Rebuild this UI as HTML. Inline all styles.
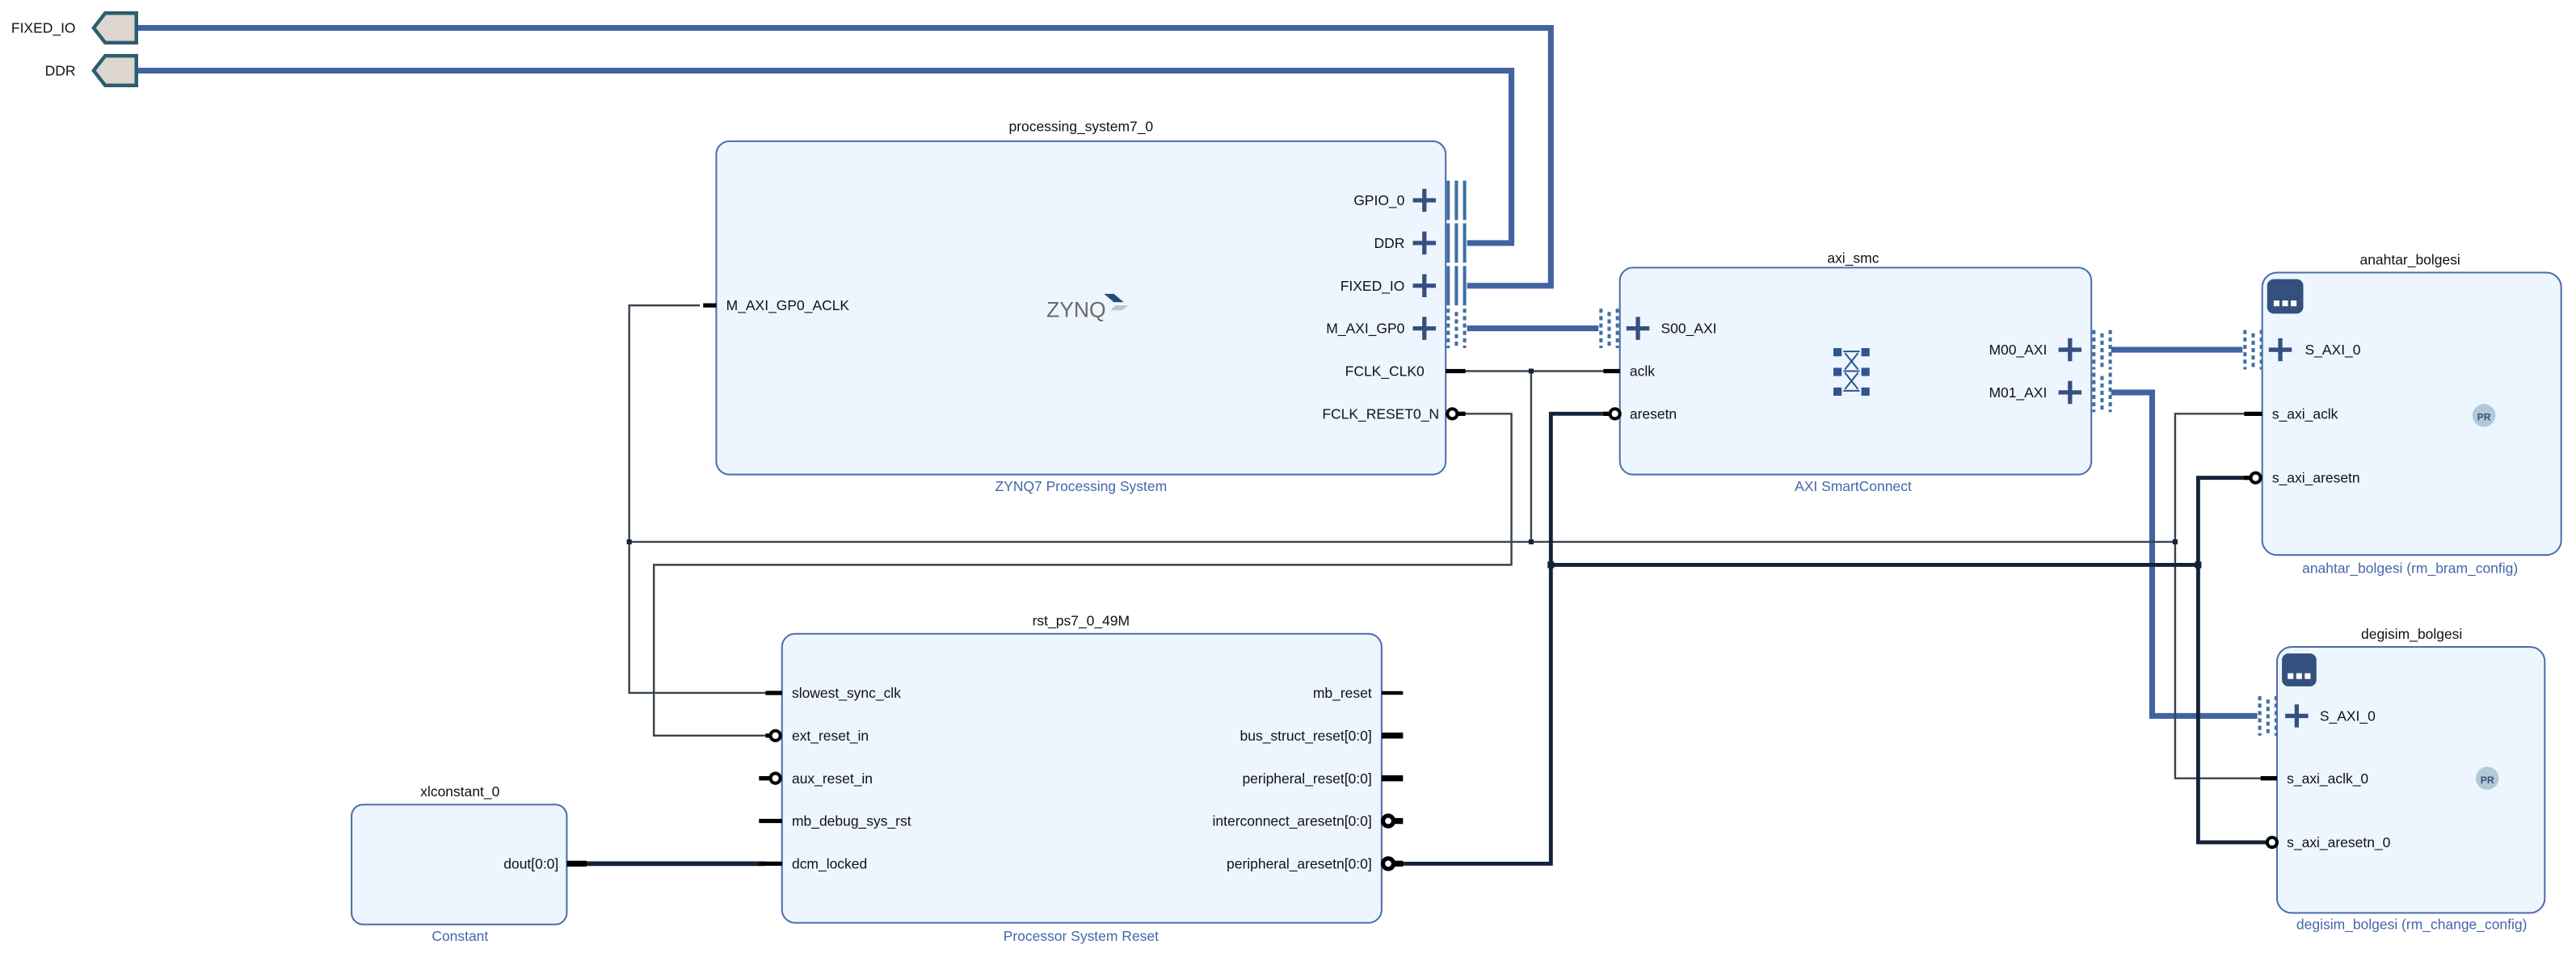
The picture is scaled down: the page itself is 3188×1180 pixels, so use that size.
<!DOCTYPE html>
<html><head><meta charset="utf-8"><style>
html,body{margin:0;padding:0;background:#fff;}
svg{display:block;}
text{font-family:"Liberation Sans",sans-serif;font-size:8.6px;fill:#111;}
.t{text-anchor:middle;}
.s{fill:#4466a8;text-anchor:middle;}
.r{text-anchor:end;}
.box{fill:#edf5fe;stroke:#4a6ea9;stroke-width:1;}
.bus{stroke:#4163a0;stroke-width:3.5;fill:none;}
.clk{stroke:#3a4450;stroke-width:1.2;fill:none;}
.rst{stroke:#14233a;stroke-width:2.4;fill:none;}
.pl{stroke:#34507f;stroke-width:2.6;}
.pin{stroke:#000;stroke-width:2.6;}
.inv{fill:#fff;stroke:#000;stroke-width:2;}
</style></head><body>
<svg width="3188" height="1180" viewBox="0 0 1568 580.4" preserveAspectRatio="none" xmlns="http://www.w3.org/2000/svg">
<text class="r" x="46" y="20">FIXED_IO</text>
<polygon points="57,17 64,8 83,8 83,26 64,26" fill="#ddd5d0" stroke="#2b5d6e" stroke-width="2.2"/>
<text class="r" x="46" y="46">DDR</text>
<polygon points="57,43 64,34 83,34 83,52 64,52" fill="#ddd5d0" stroke="#2b5d6e" stroke-width="2.2"/>
<polyline class="bus" points="84,17 944,17 944,174 893,174"/>
<polyline class="bus" points="84,43 920,43 920,148 893,148"/>

<line class="bus" x1="893" y1="200" x2="973" y2="200"/>
<line class="bus" x1="1285" y1="213" x2="1365" y2="213"/>
<polyline class="bus" points="1285,239 1310,239 1310,436 1374,436"/>
<line class="clk" x1="892" y1="226" x2="976" y2="226"/>
<line class="clk" x1="932" y1="226" x2="932" y2="330"/>
<line class="clk" x1="383" y1="330" x2="1324" y2="330"/>
<polyline class="clk" points="426,186 383,186 383,422 466,422"/>
<polyline class="clk" points="1366,252 1324,252 1324,474 1376,474"/>
<rect x="930.5" y="224.5" width="3" height="3" fill="#14233a"/>
<rect x="381.5" y="328.5" width="3" height="3" fill="#14233a"/>
<rect x="930.5" y="328.5" width="3" height="3" fill="#14233a"/>
<rect x="1322.5" y="328.5" width="3" height="3" fill="#14233a"/>
<polyline class="clk" points="890,252 920,252 920,344 398,344 398,448 468,448"/>
<polyline class="rst" points="852,526 944,526 944,252 978,252"/>
<line class="rst" x1="944" y1="344" x2="1338" y2="344"/>
<polyline class="rst" points="1372,291 1338,291 1338,513 1380,513"/>
<rect x="942" y="342" width="4" height="4" fill="#14233a"/>
<rect x="1336" y="342" width="4" height="4" fill="#14233a"/>
<line class="rst" x1="355" y1="526" x2="466" y2="526" style="stroke-width:2.8"/>

<text class="t" x="658" y="80">processing_system7_0</text>
<rect class="box" x="436" y="86" width="444" height="203" rx="8"/>
<text class="s" x="658" y="299">ZYNQ7 Processing System</text>
<text x="442" y="189">M_AXI_GP0_ACLK</text>
<line class="pin" x1="428" y1="186" x2="436" y2="186"/>
<text x="637" y="193" style="font-size:13px;fill:#6a6a6a">ZYNQ</text>
<polygon points="672,179 678,179 684,184 678,184" fill="#1f4e79"/>
<polygon points="679,186 687,186 683,189 676,189" fill="#b8c7d6"/>
<text class="r" x="855" y="125">GPIO_0</text>
<text class="r" x="855" y="151">DDR</text>
<text class="r" x="855" y="177">FIXED_IO</text>
<text class="r" x="855" y="203">M_AXI_GP0</text>
<text class="r" x="867" y="229">FCLK_CLK0</text>
<text class="r" x="876" y="255">FCLK_RESET0_N</text>
<g class="pl">
<line x1="860" y1="122" x2="874" y2="122"/><line x1="867" y1="115" x2="867" y2="129"/>
<line x1="860" y1="148" x2="874" y2="148"/><line x1="867" y1="141" x2="867" y2="155"/>
<line x1="860" y1="174" x2="874" y2="174"/><line x1="867" y1="167" x2="867" y2="181"/>
<line x1="860" y1="200" x2="874" y2="200"/><line x1="867" y1="193" x2="867" y2="207"/>
</g>
<g fill="#3f6fa3">
<rect x="880.5" y="110" width="2" height="24"/><rect x="885.5" y="110" width="2" height="24"/><rect x="890.5" y="110" width="2" height="24"/>
<rect x="880.5" y="136" width="2" height="24"/><rect x="885.5" y="136" width="2" height="24"/><rect x="890.5" y="136" width="2" height="24"/>
<rect x="880.5" y="162" width="2" height="24"/><rect x="885.5" y="162" width="2" height="24"/><rect x="890.5" y="162" width="2" height="24"/>
</g>
<g stroke="#3f6fa3" stroke-width="2" stroke-dasharray="2.5,2">
<line x1="881.5" y1="188" x2="881.5" y2="212"/><line x1="886.5" y1="190" x2="886.5" y2="212"/><line x1="891.5" y1="188" x2="891.5" y2="212"/>
</g>
<line class="pin" x1="880" y1="226" x2="892" y2="226"/>
<line class="pin" x1="886" y1="252" x2="892" y2="252"/>
<circle class="inv" cx="884" cy="252" r="3"/>

<text class="t" x="1128" y="160">axi_smc</text>
<rect class="box" x="986" y="163" width="287" height="126" rx="8"/>
<text class="s" x="1128" y="299">AXI SmartConnect</text>
<g stroke="#3f6fa3" stroke-width="2" stroke-dasharray="2.5,2">
<line x1="974.5" y1="188" x2="974.5" y2="212"/><line x1="979.5" y1="190" x2="979.5" y2="212"/><line x1="984.5" y1="188" x2="984.5" y2="212"/>
<line x1="1274.5" y1="201" x2="1274.5" y2="225"/><line x1="1279.5" y1="203" x2="1279.5" y2="225"/><line x1="1284.5" y1="201" x2="1284.5" y2="225"/>
<line x1="1274.5" y1="227" x2="1274.5" y2="251"/><line x1="1279.5" y1="229" x2="1279.5" y2="251"/><line x1="1284.5" y1="227" x2="1284.5" y2="251"/>
<line x1="1366.5" y1="201" x2="1366.5" y2="225"/><line x1="1371.5" y1="203" x2="1371.5" y2="225"/><line x1="1376.5" y1="201" x2="1376.5" y2="225"/>
<line x1="1375.5" y1="424" x2="1375.5" y2="448"/><line x1="1380.5" y1="426" x2="1380.5" y2="448"/><line x1="1385.5" y1="424" x2="1385.5" y2="448"/>
</g>
<g class="pl">
<line x1="990" y1="200" x2="1004" y2="200"/><line x1="997" y1="193" x2="997" y2="207"/>
<line x1="1253" y1="213" x2="1267" y2="213"/><line x1="1260" y1="206" x2="1260" y2="220"/>
<line x1="1253" y1="239" x2="1267" y2="239"/><line x1="1260" y1="232" x2="1260" y2="246"/>
</g>
<text x="1011" y="203">S00_AXI</text>
<text x="992" y="229">aclk</text>
<text x="992" y="255">aresetn</text>
<text class="r" x="1246" y="216">M00_AXI</text>
<text class="r" x="1246" y="242">M01_AXI</text>
<line class="pin" x1="976" y1="226" x2="986" y2="226"/>
<line class="pin" x1="976" y1="252" x2="982" y2="252"/>
<circle class="inv" cx="983" cy="252" r="3"/>
<g fill="#2f5590">
<rect x="1116" y="212" width="5" height="5"/><rect x="1133" y="212" width="5" height="5"/>
<rect x="1116" y="224" width="5" height="5"/><rect x="1133" y="224" width="5" height="5"/>
<rect x="1116" y="236" width="5" height="5"/><rect x="1133" y="236" width="5" height="5"/>
</g>
<g stroke="#2f5590" stroke-width="1">
<line x1="1122" y1="214" x2="1132" y2="214"/><line x1="1122" y1="226" x2="1132" y2="226"/><line x1="1122" y1="238" x2="1132" y2="238"/>
<line x1="1123" y1="215" x2="1131" y2="225"/><line x1="1131" y1="215" x2="1123" y2="225"/>
<line x1="1123" y1="227" x2="1131" y2="237"/><line x1="1131" y1="227" x2="1123" y2="237"/>
</g>

<text class="t" x="1467" y="161">anahtar_bolgesi</text>
<rect class="box" x="1377" y="166" width="182" height="172" rx="9"/>
<text class="s" x="1467" y="349">anahtar_bolgesi (rm_bram_config)</text>
<rect x="1380" y="170" width="22" height="21" rx="4" fill="#34507f"/>
<rect x="1384" y="183" width="3.5" height="3.5" fill="#fff"/><rect x="1389.2" y="183" width="3.5" height="3.5" fill="#fff"/><rect x="1394.4" y="183" width="3.5" height="3.5" fill="#fff"/>
<g class="pl"><line x1="1381" y1="213" x2="1395" y2="213"/><line x1="1388" y1="206" x2="1388" y2="220"/></g>
<text x="1403" y="216">S_AXI_0</text>
<text x="1383" y="255">s_axi_aclk</text>
<text x="1383" y="294">s_axi_aresetn</text>
<line class="pin" x1="1366" y1="252" x2="1377" y2="252"/>
<line class="pin" x1="1366" y1="291" x2="1371" y2="291"/>
<circle class="inv" cx="1373" cy="291" r="3"/>
<circle cx="1512" cy="253" r="7" fill="#b3c9d6"/>
<text x="1512" y="256" class="t" style="font-size:6px;font-weight:bold;fill:#34507f">PR</text>

<text class="t" x="1468" y="389">degisim_bolgesi</text>
<rect class="box" x="1386" y="394" width="163" height="162" rx="9"/>
<text class="s" x="1468" y="566">degisim_bolgesi (rm_change_config)</text>
<rect x="1389" y="398" width="21" height="20" rx="4" fill="#34507f"/>
<rect x="1392.5" y="410" width="3.5" height="3.5" fill="#fff"/><rect x="1397.7" y="410" width="3.5" height="3.5" fill="#fff"/><rect x="1402.9" y="410" width="3.5" height="3.5" fill="#fff"/>
<g class="pl"><line x1="1391" y1="436" x2="1405" y2="436"/><line x1="1398" y1="429" x2="1398" y2="443"/></g>
<text x="1412" y="439">S_AXI_0</text>
<text x="1392" y="477">s_axi_aclk_0</text>
<text x="1392" y="516">s_axi_aresetn_0</text>
<line class="pin" x1="1376" y1="474" x2="1386" y2="474"/>
<circle class="inv" cx="1383" cy="513" r="3"/>
<circle cx="1514" cy="474" r="7" fill="#b3c9d6"/>
<text x="1514" y="477" class="t" style="font-size:6px;font-weight:bold;fill:#34507f">PR</text>

<text class="t" x="658" y="381">rst_ps7_0_49M</text>
<rect class="box" x="476" y="386" width="365" height="176" rx="8"/>
<text class="s" x="658" y="573">Processor System Reset</text>
<text x="482" y="425">slowest_sync_clk</text>
<text x="482" y="451">ext_reset_in</text>
<text x="482" y="477">aux_reset_in</text>
<text x="482" y="503">mb_debug_sys_rst</text>
<text x="482" y="529">dcm_locked</text>
<line class="pin" x1="466" y1="422" x2="476" y2="422"/>
<line class="pin" x1="466" y1="448" x2="470" y2="448"/><circle class="inv" cx="472" cy="448" r="3"/>
<line class="pin" x1="462" y1="474" x2="470" y2="474"/><circle class="inv" cx="472" cy="474" r="3"/>
<line class="pin" x1="462" y1="500" x2="476" y2="500"/>
<line class="pin" x1="462" y1="526" x2="476" y2="526"/>
<text class="r" x="835" y="425">mb_reset</text>
<text class="r" x="835" y="451">bus_struct_reset[0:0]</text>
<text class="r" x="835" y="477">peripheral_reset[0:0]</text>
<text class="r" x="835" y="503">interconnect_aresetn[0:0]</text>
<text class="r" x="835" y="529">peripheral_aresetn[0:0]</text>
<line class="pin" x1="841" y1="422" x2="854" y2="422" style="stroke-width:2.2"/>
<line class="pin" x1="841" y1="448" x2="854" y2="448" style="stroke-width:3.6"/>
<line class="pin" x1="841" y1="474" x2="854" y2="474" style="stroke-width:3.6"/>
<line class="pin" x1="846" y1="500" x2="854" y2="500" style="stroke-width:3.6"/>
<circle cx="845" cy="500" r="3.2" fill="#fff" stroke="#000" stroke-width="2.6"/>
<line class="pin" x1="846" y1="526" x2="854" y2="526" style="stroke-width:3.6"/>
<circle cx="845" cy="526" r="3.2" fill="#fff" stroke="#000" stroke-width="2.6"/>

<text class="t" x="280" y="485">xlconstant_0</text>
<rect class="box" x="214" y="490" width="131" height="73" rx="7"/>
<text class="s" x="280" y="573">Constant</text>
<text class="r" x="340" y="529">dout[0:0]</text>
<line class="pin" x1="345" y1="526" x2="357" y2="526" style="stroke-width:3.6"/>
</svg>
</body></html>
